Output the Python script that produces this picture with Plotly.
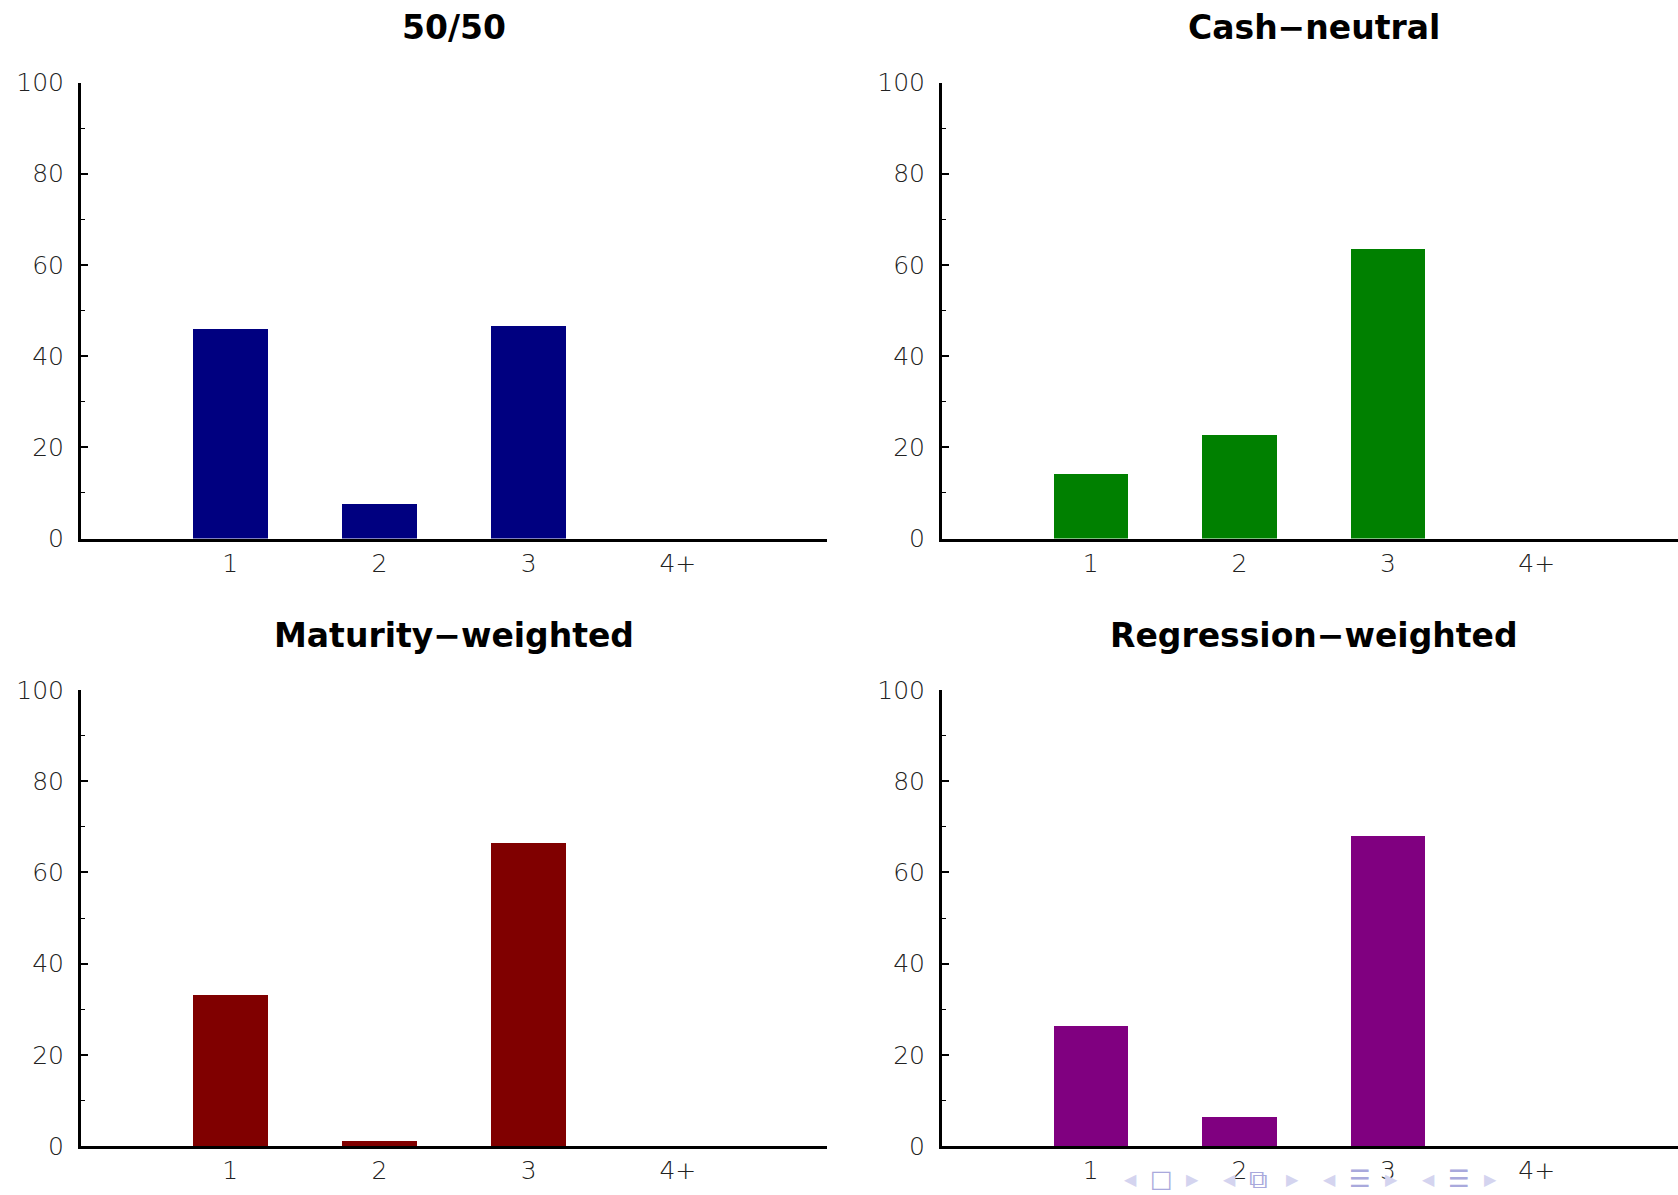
import plotly.graph_objects as go

categories = ["1", "2", "3", "4+"]
positions = [1, 2, 3, 4]
titles = ["50/50", "Cash−neutral", "Maturity−weighted", "Regression−weighted"]
vals_5050 = [46.1, 7.7, 46.8, 0]
vals_cash = [14.2, 22.9, 63.5, 0]
vals_mat = [33.1, 1.2, 66.4, 0]
vals_reg = [26.4, 6.3, 67.9, 0]
colors = ["#000080", "#008000", "#800000", "#800080"]
y_ticks = [0, 20, 40, 60, 80, 100]

W, H = 1678, 1195
series = [vals_5050, vals_cash, vals_mat, vals_reg]

# panel layout (paper fractions)
x_domains = [[81 / W, 827 / W], [942 / W, 1.0], [81 / W, 827 / W], [942 / W, 1.0]]
x_ranges = [[0, 5], [0, 4.95], [0, 5], [0, 4.95]]
y_domains = [[(H - 538.5) / H, (H - 82.5) / H], [(H - 538.5) / H, (H - 82.5) / H],
             [(H - 1146) / H, (H - 690) / H], [(H - 1146) / H, (H - 690) / H]]
title_x = [454 / W, 1314 / W, 454 / W, 1314 / W]
title_y = [(H - 27) / H, (H - 27) / H, (H - 635) / H, (H - 635) / H]

fig = go.Figure()
tick_font = dict(family="DejaVu Sans", size=25, color="#222222", weight=300)

for i, vals in enumerate(series):
    sfx = "" if i == 0 else str(i + 1)
    fig.add_trace(go.Bar(x=positions, y=vals, width=0.5, marker_color=colors[i],
                         marker_line_width=0, xaxis="x" + sfx, yaxis="y" + sfx,
                         showlegend=False))
    fig.layout["xaxis" + sfx] = dict(
        domain=x_domains[i], range=x_ranges[i], anchor="y" + sfx,
        tickvals=positions, ticktext=categories, ticks="", showgrid=False,
        zeroline=False, showline=True, linewidth=3, linecolor="black",
        tickfont=tick_font, ticklabelstandoff=0, fixedrange=True, automargin=False)
    fig.layout["yaxis" + sfx] = dict(
        domain=y_domains[i], range=[0, 100], anchor="x" + sfx,
        tickvals=y_ticks, ticks="inside", ticklen=7, tickwidth=1.5,
        tickcolor="black", showgrid=False, zeroline=False, showline=True,
        linewidth=3, linecolor="black", tickfont=tick_font,
        ticklabelstandoff=9, automargin=False,
        minor=dict(ticks="inside", ticklen=4, tickwidth=1.2, dtick=10,
                   tickcolor="black", showgrid=False),
        fixedrange=True)
    fig.add_annotation(text=titles[i], x=title_x[i], y=title_y[i], xref="paper",
                       yref="paper", showarrow=False, xanchor="center",
                       yanchor="middle",
                       font=dict(family="DejaVu Sans", size=33, color="black",
                                 weight="bold"))

# beamer navigation symbols (decoration)
light, mid = "#d4d4ef", "#a9a9dc"
nav = [("◀", 1130, light, 16), ("□", 1161, mid, 24), ("▶", 1192, light, 16),
       ("◀", 1229, light, 16), ("⧉", 1258, mid, 26), ("▶", 1292, light, 16),
       ("◀", 1329, light, 16), ("☰", 1360, mid, 24), ("▶", 1391, light, 16),
       ("◀", 1428, light, 16), ("☰", 1459, mid, 24), ("▶", 1490, light, 16)]
for sym, xpix, col, sz in nav:
    fig.add_annotation(text=sym, x=xpix / W, y=(H - 1179) / H, xref="paper", yref="paper",
                       showarrow=False, xanchor="center", yanchor="middle", borderpad=0,
                       font=dict(family="DejaVu Sans", size=sz, color=col))

fig.update_layout(width=W, height=H, margin=dict(l=0, r=0, t=0, b=0, autoexpand=False),
                  paper_bgcolor="white", plot_bgcolor="white", bargap=0)

fig.write_html("out.html", config={"displayModeBar": False},
               post_script="document.body.style.margin='0';document.body.style.overflow='hidden';")
